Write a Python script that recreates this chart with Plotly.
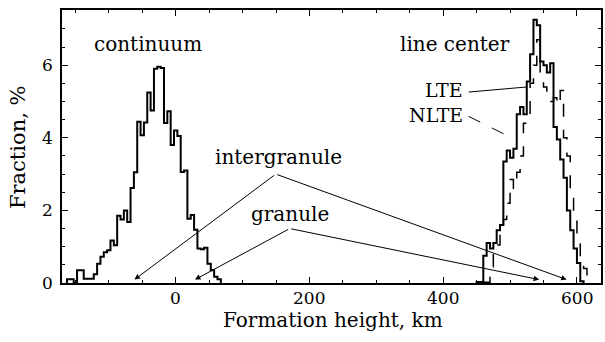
import plotly.graph_objects as go

# ---------------- data ----------------
BIN_WIDTH = 5.0  # km

continuum_start = -162.5
continuum_frac = [0.1, 0.1, 0.0, 0.35, 0.35, 0.12, 0.12, 0.12, 0.24, 0.53,
                  0.72, 0.85, 0.9, 1.17, 1.04, 1.85, 1.75, 2.0, 1.68, 2.62,
                  3.05, 4.44, 4.07, 4.42, 5.25, 4.75, 5.9, 5.96, 5.92, 4.41,
                  4.73, 3.8, 4.2, 4.05, 3.06, 3.1, 1.77, 1.87, 1.47, 0.95,
                  0.93, 0.97, 0.53, 0.35, 0.17, 0.1]

lte_start = 450.0
lte_frac = [0.03, 0.03, 0.75, 1.1, 0.95, 1.1, 1.45, 1.6, 3.35, 3.65,
            3.45, 3.7, 4.65, 4.85, 4.65, 5.55, 6.3, 7.25, 7.1, 6.1,
            6.0, 5.8, 6.05, 4.3, 3.95, 3.4, 2.9, 2.0, 1.45, 0.95,
            0.55, 0.05]

nlte_start = 460.0
nlte_frac = [0.02, 0.02, 0.45, 0.8, 1.05, 1.35, 1.75, 2.2, 2.85, 2.6,
             3.05, 3.5, 4.4, 4.5, 5.5, 6.0, 6.7, 5.6, 5.4, 5.1,
             5.0, 5.1, 4.9, 5.3, 4.0, 3.5, 2.6, 1.8, 1.3, 0.7,
             0.4, 0.15]

x_ticks = [0, 200, 400, 600]
y_ticks = [0, 2, 4, 6]
x_range = [-170, 636]
y_range = [0, 7.52]


def step_xy(start, vals, w):
    edges = [start + i * w for i in range(len(vals) + 1)]
    xs = [edges[0]] + edges[:-1] + [edges[-1]]
    ys = [0] + list(vals) + [0]
    return xs, ys


FONT = "DejaVu Serif"

fig = go.Figure()

cx, cy = step_xy(continuum_start, continuum_frac, BIN_WIDTH)
fig.add_trace(go.Scatter(x=cx, y=cy, mode="lines", line_shape="hv",
                         line=dict(color="black", width=2), showlegend=False))

nx, ny = step_xy(nlte_start, nlte_frac, BIN_WIDTH)
fig.add_trace(go.Scatter(x=nx, y=ny, mode="lines", line_shape="hv",
                         line=dict(color="black", width=1.5, dash="13px,13px"),
                         showlegend=False))

lx, ly = step_xy(lte_start, lte_frac, BIN_WIDTH)
fig.add_trace(go.Scatter(x=lx, y=ly, mode="lines", line_shape="hv",
                         line=dict(color="black", width=2), showlegend=False))

# leader lines for LTE / NLTE labels
fig.add_trace(go.Scatter(x=[438, 525.3], y=[5.26, 5.40], mode="lines",
                         line=dict(color="black", width=1), showlegend=False))
fig.add_trace(go.Scatter(x=[438, 498], y=[4.59, 4.04], mode="lines",
                         line=dict(color="black", width=1, dash="13px,13px"),
                         showlegend=False))

annotations = []


def text(x, y, s, size=20, xanchor="center"):
    annotations.append(dict(x=x, y=y, xref="x", yref="y", text=s, showarrow=False,
                            xanchor=xanchor, yanchor="middle",
                            font=dict(family=FONT, size=size, color="black")))


def arrow(x0, y0, x1, y1):
    annotations.append(dict(x=x1, y=y1, ax=x0, ay=y0, xref="x", yref="y",
                            axref="x", ayref="y", text="", showarrow=True,
                            arrowhead=2, arrowsize=1.1, arrowwidth=1,
                            arrowcolor="black", standoff=0, startstandoff=0))


text(-42, 6.57, "continuum")
text(417, 6.57, "line center")
text(432, 5.32, "LTE", xanchor="right", size=19)
text(432, 4.63, "NLTE", xanchor="right", size=19)
text(154, 3.46, "intergranule")
text(171, 1.89, "granule")

arrow(149.7, 3.0, -61.6, 0.094)
arrow(149.7, 3.0, 584.6, 0.094)
arrow(170.6, 1.5, 28.9, 0.094)
arrow(170.6, 1.5, 543.5, 0.094)

# tick labels (placed as text so they sit where the reference has them)
for v in x_ticks:
    annotations.append(dict(x=v, y=0, xref="x", yref="paper", yshift=-15,
                            text=str(v), showarrow=False, xanchor="center",
                            yanchor="middle",
                            font=dict(family=FONT, size=17, color="black")))
for v in y_ticks:
    annotations.append(dict(x=0, y=v, xref="paper", yref="y", xshift=-14.5,
                            text=str(v), showarrow=False, xanchor="center",
                            yanchor="middle",
                            font=dict(family=FONT, size=17, color="black")))

# axis titles
annotations.append(dict(x=0.503, y=0, xref="paper", yref="paper", yshift=-37,
                        text="Formation height, km", showarrow=False,
                        xanchor="center", yanchor="middle",
                        font=dict(family=FONT, size=20, color="black")))
annotations.append(dict(x=0, y=0.498, xref="paper", yref="paper", xshift=-44,
                        text="Fraction, %", showarrow=False, textangle=-90,
                        xanchor="center", yanchor="middle",
                        font=dict(family=FONT, size=21, color="black")))

axis_common = dict(showgrid=False, zeroline=False, showline=True,
                   linecolor="black", linewidth=1.5, mirror="allticks",
                   ticks="inside", ticklen=6, tickwidth=1, tickcolor="black",
                   showticklabels=False)

fig.update_layout(
    width=605, height=342,
    margin=dict(l=62, r=2, t=10, b=59),
    paper_bgcolor="white", plot_bgcolor="white",
    xaxis=dict(range=x_range, tickvals=x_ticks,
               minor=dict(dtick=50, tick0=0, ticks="inside", ticklen=3,
                          tickcolor="black"),
               **axis_common),
    yaxis=dict(range=y_range, tickvals=y_ticks,
               minor=dict(dtick=0.5, tick0=0, ticks="inside", ticklen=3,
                          tickcolor="black"),
               **axis_common),
    annotations=annotations,
    showlegend=False,
)

fig.write_html("out.html")
